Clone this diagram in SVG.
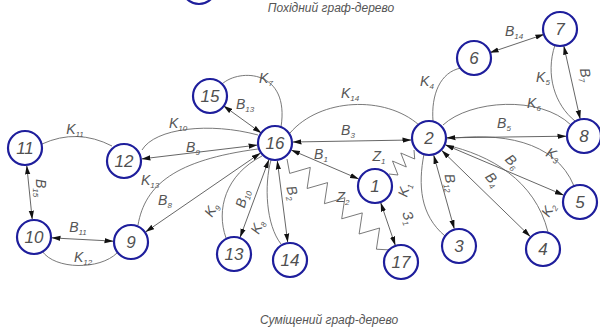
<svg xmlns="http://www.w3.org/2000/svg" width="600" height="331" viewBox="0 0 600 331">
<style>
.node circle{fill:#fff;stroke:#1e1e9c;stroke-width:2.2}
.node text{font-family:"Liberation Sans",sans-serif;font-style:italic;font-size:17px;fill:#505050;text-anchor:middle}
.e{fill:none;stroke:#6a6a6a;stroke-width:0.9}
.b{fill:none;stroke:#555;stroke-width:0.9;marker-start:url(#ah);marker-end:url(#ah)}
.lbl{font-family:"Liberation Sans",sans-serif;font-style:italic;font-size:14px;fill:#555;text-anchor:middle}
.s{font-size:8px}
.title{font-family:"Liberation Sans",sans-serif;font-style:italic;font-size:12px;fill:#555;text-anchor:middle}
</style>
<defs>
<marker id="ah" markerUnits="userSpaceOnUse" markerWidth="9" markerHeight="6" refX="8.5" refY="3" orient="auto-start-reverse" viewBox="0 0 9 6">
<path d="M0,0.4 L9,3 L0,5.6 z" fill="#111"/>
</marker>
</defs>
<rect width="600" height="331" fill="#fff"/>
<circle cx="199" cy="-13" r="17" fill="none" stroke="#1e1e9c" stroke-width="2.2"/>
<text class="title" x="331" y="12">Похідний граф-дерево</text>
<text class="title" x="329" y="324">Суміщений граф-дерево</text>
<g id="connectors">
<path class="e" d="M42,144 Q77,128 112,146"/>
<path class="e" d="M142,150 C155,128 210,122 258,135"/>
<path class="e" d="M138,225 C145,185 175,160 258,149"/>
<path class="e" d="M226,238 C216,210 225,175 262,156"/>
<path class="e" d="M281,244 C266,225 264,185 271,160"/>
<path class="e" d="M222,84 C240,68 290,70 281,127"/>
<path class="e" d="M290,133 C320,98 385,95 419,125"/>
<path class="e" d="M433,121 C431,95 440,72 461,68"/>
<path class="e" d="M443,125 C470,100 540,95 571,125"/>
<path class="e" d="M555,45 C545,75 555,105 575,121"/>
<path class="e" d="M446,139 C500,132 555,140 574,186"/>
<path class="e" d="M446,145 C490,155 535,180 548,232"/>
<path class="e" d="M424,154 C418,185 420,215 445,236"/>
<path class="e" d="M42,251 C55,270 100,270 117,253"/>
<polyline class="e" points="287,159 289.7,173.4 310.3,167.4 307.1,188.5 327.6,182.6 324.4,203.7 344.9,197.7 341.7,218.8 362.3,212.9 359.1,234 379.6,228 376.4,249.2 391,250"/>
<polyline class="e" points="414,150 414.7,159 400.8,153 406.3,167 392.5,161 398,175 389,174"/>
<line class="b" x1="293" y1="142" x2="411" y2="140"/>
<line class="b" x1="291.5" y1="150.1" x2="358.5" y2="178.9"/>
<line class="b" x1="380.8" y1="203" x2="395.2" y2="245"/>
<line class="b" x1="433.8" y1="155.4" x2="454.2" y2="228.6"/>
<line class="b" x1="441.9" y1="150.6" x2="530.1" y2="236.4"/>
<line class="b" x1="445.6" y1="145" x2="563.4" y2="195"/>
<line class="b" x1="447" y1="137.8" x2="566" y2="136.2"/>
<line class="b" x1="563.9" y1="46.2" x2="580.1" y2="118.8"/>
<line class="b" x1="490.1" y1="52.6" x2="543.9" y2="34.4"/>
<line class="b" x1="223.8" y1="106" x2="261.2" y2="133"/>
<line class="b" x1="257.1" y1="145.1" x2="141.9" y2="158.9"/>
<line class="b" x1="260.2" y1="153.2" x2="145.8" y2="231.8"/>
<line class="b" x1="268.8" y1="159.9" x2="240.2" y2="237.1"/>
<line class="b" x1="277.3" y1="160.9" x2="287.7" y2="242.1"/>
<line class="b" x1="52" y1="237.9" x2="113" y2="241.1"/>
<line class="b" x1="26.8" y1="165.9" x2="32.2" y2="219.1"/>
</g>
<g id="labels">
<text class="lbl" x="75" y="134">K<tspan class="s" dy="3">11</tspan></text>
<text class="lbl" x="178" y="128">K<tspan class="s" dy="3">10</tspan></text>
<text class="lbl" x="193" y="152">B<tspan class="s" dy="3">9</tspan></text>
<text class="lbl" x="150" y="185">K<tspan class="s" dy="3">13</tspan></text>
<text class="lbl" x="165" y="205">B<tspan class="s" dy="3">8</tspan></text>
<text class="lbl" x="212" y="214" transform="rotate(-60 212 210)">K<tspan class="s" dy="3">9</tspan></text>
<text class="lbl" x="243" y="203" transform="rotate(-75 243 199)">B<tspan class="s" dy="3">10</tspan></text>
<text class="lbl" x="258" y="231" transform="rotate(-65 258 227)">K<tspan class="s" dy="3">8</tspan></text>
<text class="lbl" x="292" y="197" transform="rotate(75 292 193)">B<tspan class="s" dy="3">2</tspan></text>
<text class="lbl" x="266" y="83">K<tspan class="s" dy="3">7</tspan></text>
<text class="lbl" x="245" y="109">B<tspan class="s" dy="3">13</tspan></text>
<text class="lbl" x="350" y="98">K<tspan class="s" dy="3">14</tspan></text>
<text class="lbl" x="348" y="135">B<tspan class="s" dy="3">3</tspan></text>
<text class="lbl" x="321" y="159">B<tspan class="s" dy="3">1</tspan></text>
<text class="lbl" x="343" y="202">Z<tspan class="s" dy="3">2</tspan></text>
<text class="lbl" x="379" y="161">Z<tspan class="s" dy="3">1</tspan></text>
<text class="lbl" x="405" y="194" transform="rotate(-75 405 190)">K<tspan class="s" dy="3">1</tspan></text>
<text class="lbl" x="450" y="187" transform="rotate(80 450 183)">B<tspan class="s" dy="3">12</tspan></text>
<text class="lbl" x="492" y="184" transform="rotate(50 492 180)">B<tspan class="s" dy="3">4</tspan></text>
<text class="lbl" x="549" y="214" transform="rotate(-60 549 210)">K<tspan class="s" dy="3">2</tspan></text>
<text class="lbl" x="512" y="166" transform="rotate(45 512 162)">B<tspan class="s" dy="3">6</tspan></text>
<text class="lbl" x="553" y="159" transform="rotate(25 553 155)">K<tspan class="s" dy="3">3</tspan></text>
<text class="lbl" x="504" y="128">B<tspan class="s" dy="3">5</tspan></text>
<text class="lbl" x="534" y="108">K<tspan class="s" dy="3">6</tspan></text>
<text class="lbl" x="427" y="86">K<tspan class="s" dy="3">4</tspan></text>
<text class="lbl" x="514" y="36">B<tspan class="s" dy="3">14</tspan></text>
<text class="lbl" x="543" y="82">K<tspan class="s" dy="3">5</tspan></text>
<text class="lbl" x="585" y="79" transform="rotate(80 585 75)">B<tspan class="s" dy="3">7</tspan></text>
<text class="lbl" x="408" y="222" transform="rotate(70 408 218)">З<tspan class="s" dy="3">1</tspan></text>
<text class="lbl" x="78" y="232">B<tspan class="s" dy="3">11</tspan></text>
<text class="lbl" x="83" y="262">K<tspan class="s" dy="3">12</tspan></text>
<text class="lbl" x="40" y="192" transform="rotate(90 40 188)">B<tspan class="s" dy="3">15</tspan></text>
</g>
<g id="n1" class="node"><circle cx="375" cy="186" r="17"/><text x="375" y="192">1</text></g>
<g id="n2" class="node"><circle cx="429" cy="138" r="17"/><text x="429" y="144">2</text></g>
<g id="n3" class="node"><circle cx="459" cy="246" r="17"/><text x="459" y="252">3</text></g>
<g id="n4" class="node"><circle cx="543" cy="249" r="17"/><text x="543" y="255">4</text></g>
<g id="n5" class="node"><circle cx="580" cy="202" r="17"/><text x="580" y="208">5</text></g>
<g id="n6" class="node"><circle cx="474" cy="58" r="17"/><text x="474" y="64">6</text></g>
<g id="n7" class="node"><circle cx="560" cy="29" r="17"/><text x="560" y="35">7</text></g>
<g id="n8" class="node"><circle cx="584" cy="136" r="17"/><text x="584" y="142">8</text></g>
<g id="n9" class="node"><circle cx="131" cy="242" r="17"/><text x="131" y="248">9</text></g>
<g id="n10" class="node"><circle cx="34" cy="237" r="17"/><text x="34" y="243">10</text></g>
<g id="n11" class="node"><circle cx="25" cy="148" r="17"/><text x="25" y="154">11</text></g>
<g id="n12" class="node"><circle cx="124" cy="161" r="17"/><text x="124" y="167">12</text></g>
<g id="n13" class="node"><circle cx="234" cy="254" r="17"/><text x="234" y="260">13</text></g>
<g id="n14" class="node"><circle cx="290" cy="260" r="17"/><text x="290" y="266">14</text></g>
<g id="n15" class="node"><circle cx="210" cy="96" r="17"/><text x="210" y="102">15</text></g>
<g id="n16" class="node"><circle cx="275" cy="143" r="17"/><text x="275" y="149">16</text></g>
<g id="n17" class="node"><circle cx="401" cy="262" r="17"/><text x="401" y="268">17</text></g>
</svg>
